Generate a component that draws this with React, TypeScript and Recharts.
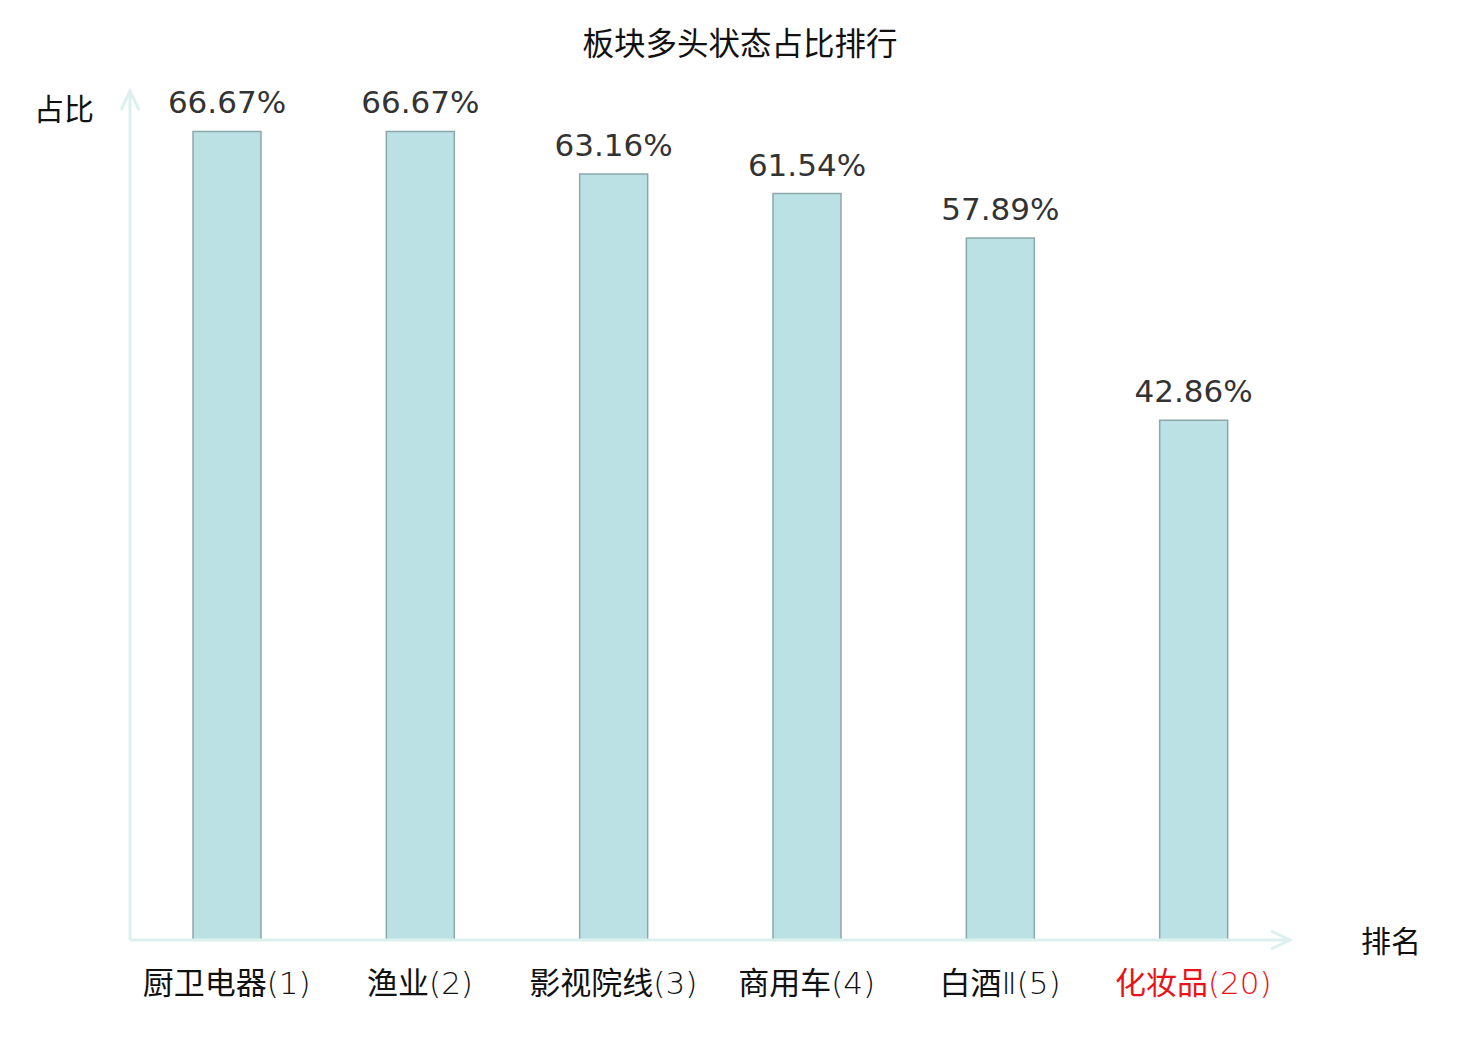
import React from 'react';
import { BarChart, Bar, XAxis, YAxis, LabelList, ReferenceLine } from 'recharts';

const categories = ['厨卫电器(1)', '渔业(2)', '影视院线(3)', '商用车(4)', '白酒Ⅱ(5)', '化妆品(20)'];
const ratios = [66.67, 66.67, 63.16, 61.54, 57.89, 42.86];
const highlighted = ['化妆品(20)'];
const yDomain = [0, 70];

const data = categories.map((name, i) => ({ name, value: ratios[i] }));

const AXIS_COLOR = '#dcf1ee';
const FONT = '"DejaVu Sans", "Noto Sans CJK SC", sans-serif';

const CategoryTick = (props: any) => {
  const { x, y, payload } = props;
  const red = highlighted.includes(payload.value);
  const label: string = String(payload.value);
  const m = label.match(/^([\u4e00-\u9fff]+)(.*)$/);
  const head = m ? m[1] : label;
  const tail = m ? m[2] : '';
  return (
    <text x={x} y={y} dy={21} textAnchor="middle" fontSize={31} fontFamily={FONT} fill={red ? '#e8141a' : '#111'}>
      <tspan>{head}</tspan>
      <tspan fontWeight={200}>{tail}</tspan>
    </text>
  );
};

const XArrow = (props: any) => {
  const { x2, y1 } = props;
  return (
    <polyline points={`${x2 - 19},${y1 - 9} ${x2},${y1} ${x2 - 19},${y1 + 9}`} fill="none" stroke={AXIS_COLOR} strokeWidth={3} />
  );
};

const YArrow = (props: any) => {
  const { x1, y1 } = props;
  return (
    <polyline points={`${x1 - 9},${y1 + 19} ${x1},${y1} ${x1 + 9},${y1 + 19}`} fill="none" stroke={AXIS_COLOR} strokeWidth={3} />
  );
};

export default function App() {
  return (
    <div style={{ position: 'relative', width: 1464, height: 1024, fontFamily: FONT }}>
      <div style={{ position: 'absolute', left: 0, width: 1464, top: 18, textAlign: 'center', fontSize: 31.5, color: '#111', lineHeight: '36px' }}>
        板块多头状态占比排行
      </div>
      <div style={{ position: 'absolute', left: 26, top: 84, fontSize: 30, color: '#111', lineHeight: '36px' }}>占比</div>
      <div style={{ position: 'absolute', left: 1353, top: 916, fontSize: 30, color: '#111', lineHeight: '36px' }}>排名</div>
      <BarChart width={1464} height={1024} data={data} margin={{ top: 83, right: 182, bottom: 32, left: 121 }} barSize={68}>
        <XAxis
          dataKey="name"
          axisLine={{ stroke: AXIS_COLOR, strokeWidth: 3 }}
          tickLine={false}
          tickSize={0}
          tickMargin={33}
          tick={<CategoryTick />}
          height={60}
          interval={0}
        />
        <YAxis
          domain={yDomain}
          width={1}
          tick={false}
          tickLine={false}
          axisLine={{ stroke: AXIS_COLOR, strokeWidth: 3 }}
          allowDataOverflow
        />
        <Bar dataKey="value" fill="#bce1e4" stroke="#8aa8aa" strokeWidth={1.5} isAnimationActive={false}>
          <LabelList
            dataKey="value"
            position="top"
            offset={18}
            formatter={(v: any) => `${Number(v).toFixed(2)}%`}
            style={{ fontSize: 31, fill: '#333', fontFamily: FONT }}
          />
        </Bar>
        <ReferenceLine y={0} stroke="none" shape={<XArrow />} ifOverflow="visible" />
        <ReferenceLine y={70} stroke="none" shape={<YArrow />} ifOverflow="visible" />
      </BarChart>
    </div>
  );
}
